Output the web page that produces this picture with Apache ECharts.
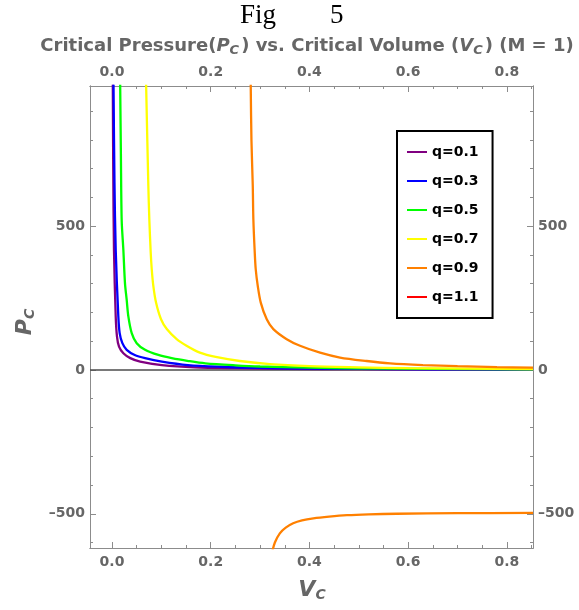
<!DOCTYPE html>
<html>
<head>
<meta charset="utf-8">
<script src="https://cdn.jsdelivr.net/npm/echarts@6/dist/echarts.min.js"></script>
<style>
html,body{margin:0;padding:0;background:#fff;}
#chart{width:579px;height:610px;}
</style>
</head>
<body>
<div id="chart"></div>
<script>
// ---- data: [Vc, Pc] ----
const qLabels = ['q=0.1', 'q=0.3', 'q=0.5', 'q=0.7', 'q=0.9', 'q=1.1'];
const q01 = [[0.0016,1000],[0.0025,700],[0.004,417],[0.0075,186],[0.0101,116],[0.0142,81],[0.023,58],[0.037,41],[0.057,29],[0.101,17],[0.168,9],[0.25,6],[0.35,4],[0.5,2.5],[0.65,1.8],[0.853,1.2]];
const q03 = [[0.003,1000],[0.005,650],[0.0075,417],[0.0128,186],[0.0155,128],[0.021,93],[0.0297,70],[0.046,52],[0.067,41],[0.101,29],[0.154,17],[0.22,11],[0.3,7],[0.4,5],[0.5,3.5],[0.65,2.3],[0.853,1.5]];
const q05 = [[0.0165,1000],[0.018,750],[0.0196,520],[0.023,417],[0.0263,301],[0.0297,244],[0.0331,186],[0.0399,128],[0.050,93],[0.0669,70],[0.0939,52],[0.121,41],[0.155,31],[0.189,23],[0.25,16],[0.3,12],[0.4,8],[0.5,5.5],[0.65,3.5],[0.853,2.2]];
const q07 = [[0.069,1000],[0.0736,640],[0.0756,524],[0.0784,408],[0.0805,350],[0.0837,292],[0.0892,234],[0.0993,176],[0.111,142],[0.131,107],[0.151,84],[0.178,60],[0.21,45],[0.259,31],[0.32,20],[0.4,13],[0.5,9],[0.6,6],[0.72,4.5],[0.853,3]];
const q09upper = [[0.281,1000],[0.2825,800],[0.2852,640],[0.2864,524],[0.2892,408],[0.2912,350],[0.2953,292],[0.3014,234],[0.3135,176],[0.3269,142],[0.354,107],[0.381,84],[0.4216,60],[0.462,43],[0.516,31],[0.5635,23],[0.63,17],[0.7,13],[0.78,10],[0.853,8]];
const q09lower = [[0.3235,-640],[0.330,-600],[0.340,-568],[0.352,-548],[0.367,-533],[0.385,-523],[0.408,-516],[0.44,-510],[0.476,-505],[0.52,-502],[0.577,-500],[0.7,-498],[0.853,-497]];
const q11 = [];
const xMajorTicks = [0, 0.2, 0.4, 0.6, 0.8];
const xMinorTicks = [0.05,0.1,0.15,0.25,0.3,0.35,0.45,0.5,0.55,0.65,0.7,0.75,0.85];
const yMajorTicks = [-500, 0, 500];
const yMinorTicks = [-600,-400,-300,-200,-100,100,200,300,400,600,700,800,900];
const xRange = [-0.0446, 0.853];
const yRange = [-619, 987];

const colors = ['#800080', '#0000ff', '#00ff00', '#ffff00', '#ff8000', '#ff0000'];
const FONT = 'DejaVu Sans';
const axisGray = '#8c8c8c';
const labelGray = '#666666';

function xAxisDef(pos, major) {
  return {
    type: 'value', position: pos, min: xRange[0], max: xRange[1],
    axisLine: { show: true, onZero: false, lineStyle: { color: axisGray, width: 1 } },
    axisTick: { show: true, inside: true, length: major ? 6 : 3,
      customValues: major ? xMajorTicks : xMinorTicks, lineStyle: { color: axisGray } },
    axisLabel: major ? { show: true, customValues: xMajorTicks, margin: 7,
      formatter: v => v.toFixed(1), color: labelGray, fontFamily: FONT, fontWeight: 'bold', fontSize: 14 } : { show: false },
    splitLine: { show: false }
  };
}
function yAxisDef(pos, major) {
  return {
    type: 'value', position: pos, min: yRange[0], max: yRange[1],
    axisLine: { show: true, onZero: false, lineStyle: { color: axisGray, width: 1 } },
    axisTick: { show: true, inside: true, length: major ? 6 : 3,
      customValues: major ? yMajorTicks : yMinorTicks, lineStyle: { color: axisGray } },
    axisLabel: major ? { show: true, customValues: yMajorTicks, margin: 5,
      formatter: v => (v < 0 ? '\u2013' + Math.abs(v) : String(v)), color: labelGray, fontFamily: FONT, fontWeight: 'bold', fontSize: 14 } : { show: false },
    splitLine: { show: false }
  };
}

const seriesData = [q01, q03, q05, q07, q09upper, q11];
function mkSeries(name, d, c) {
  return {
    name: name, type: 'line', data: d, symbol: 'none', showSymbol: false,
    smooth: 0.3, clip: true, z: 3,
    lineStyle: { color: c, width: 2.3 }, itemStyle: { color: c }
  };
}
const series = seriesData.map((d, i) => mkSeries(qLabels[i], d, colors[i]));
series.push(mkSeries(qLabels[4], q09lower, colors[4]));
series[0].markLine = {
  silent: true, symbol: 'none', z: 1, animation: false,
  label: { show: false },
  lineStyle: { color: '#4d4d4d', width: 1.5, type: 'solid' },
  data: [{ yAxis: 0 }]
};

const chart = echarts.init(document.getElementById('chart'));
chart.setOption({
  animation: false,
  backgroundColor: '#fff',
  grid: { left: 90, right: 46, top: 86, bottom: 62 },
  xAxis: [xAxisDef('bottom', true), xAxisDef('bottom', false), xAxisDef('top', true), xAxisDef('top', false)],
  yAxis: [yAxisDef('left', true), yAxisDef('left', false), yAxisDef('right', true), yAxisDef('right', false)],
  legend: {
    data: qLabels, orient: 'vertical', left: 397, top: 131,
    icon: 'path://M0 0 H20 V2 H0 Z', symbolKeepAspect: true,
    backgroundColor: '#fff', borderColor: '#000', borderWidth: 2,
    padding: [14, 14, 14, 10], itemGap: 15, itemWidth: 20, itemHeight: 14,
    textStyle: { color: '#000', fontFamily: FONT, fontWeight: 'bold', fontSize: 14 }
  },
  graphic: [
    { type: 'text', x: 240, y: 2, style: { text: 'Fig', fontFamily: 'Liberation Serif', fontSize: 27, fill: '#000' } },
    { type: 'text', x: 330, y: 2, style: { text: '5', fontFamily: 'Liberation Serif', fontSize: 27, fill: '#000' } },
    { type: 'text', x: 307, y: 46, style: {
      text: '{n|Critical Pressure(}{i|P}{s|C}{n|) vs. Critical Volume (}{i|V}{s|C}{n|) (M = 1)}',
      align: 'center', verticalAlign: 'middle',
      rich: {
        n: { fontFamily: FONT, fontWeight: 'bold', fontSize: 18, fill: labelGray },
        i: { fontFamily: FONT, fontWeight: 'bold', fontStyle: 'italic', fontSize: 18, fill: labelGray },
        s: { fontFamily: FONT, fontWeight: 'bold', fontStyle: 'italic', fontSize: 13, fill: labelGray, padding: [9, 2, 0, 0] }
      } } },
    { type: 'text', x: 312, y: 590, style: {
      text: '{i|V}{s|C}', align: 'center', verticalAlign: 'middle',
      rich: {
        i: { fontFamily: FONT, fontWeight: 'bold', fontStyle: 'italic', fontSize: 22, fill: labelGray },
        s: { fontFamily: FONT, fontWeight: 'bold', fontStyle: 'italic', fontSize: 14, fill: labelGray, padding: [11, 0, 0, 0] }
      } } },
    { type: 'text', x: 25, y: 322, rotation: Math.PI / 2, style: {
      text: '{i|P}{s|C}', align: 'center', verticalAlign: 'middle',
      rich: {
        i: { fontFamily: FONT, fontWeight: 'bold', fontStyle: 'italic', fontSize: 22, fill: labelGray },
        s: { fontFamily: FONT, fontWeight: 'bold', fontStyle: 'italic', fontSize: 14, fill: labelGray, padding: [11, 0, 0, 0] }
      } } }
  ],
  series: series
});
</script>
</body>
</html>
